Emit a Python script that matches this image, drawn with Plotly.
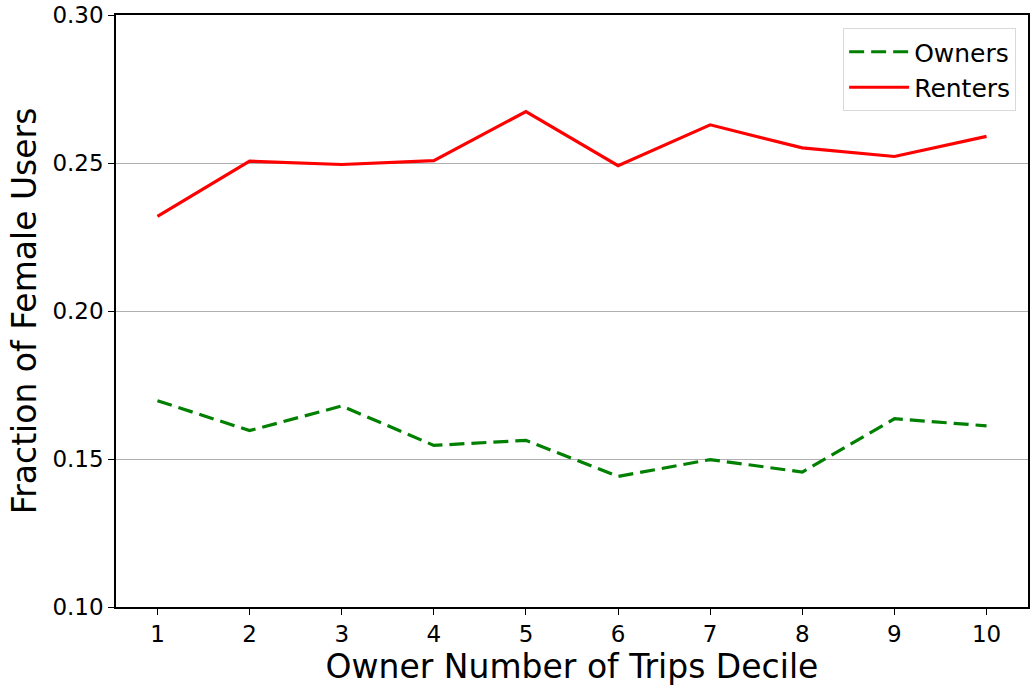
import plotly.graph_objects as go

deciles = [1, 2, 3, 4, 5, 6, 7, 8, 9, 10]
owners = [0.1697, 0.1596, 0.1679, 0.1546, 0.1563, 0.1441, 0.1498, 0.1456, 0.1636, 0.1612]
renters = [0.2320, 0.2506, 0.2495, 0.2508, 0.2674, 0.2491, 0.2629, 0.2551, 0.2522, 0.2590]
y_ticks = [0.10, 0.15, 0.20, 0.25, 0.30]
y_tick_labels = ["0.10", "0.15", "0.20", "0.25", "0.30"]

fig = go.Figure()
fig.add_trace(go.Scatter(x=deciles, y=owners, mode="lines", name="Owners",
                         line=dict(color="#008000", width=3.2, dash="15px,7px")))
fig.add_trace(go.Scatter(x=deciles, y=renters, mode="lines", name="Renters",
                         line=dict(color="#ff0000", width=3.2)))

font = "DejaVu Sans"
fig.update_layout(
    width=1032, height=686,
    margin=dict(l=116, r=2, t=14, b=79),
    paper_bgcolor="white", plot_bgcolor="white",
    font=dict(family=font, color="black", size=23),
    showlegend=True,
    legend=dict(x=0.987, y=0.978, xanchor="right", yanchor="top",
                bgcolor="white", bordercolor="#d9d9d9", borderwidth=1,
                font=dict(size=25, family=font), itemwidth=60),
    xaxis=dict(range=[0.55, 10.45], tickvals=deciles, ticktext=[str(d) for d in deciles],
               showgrid=False, zeroline=False, ticks="outside", ticklen=6, tickwidth=1,
               tickcolor="black", showline=True, linecolor="black", linewidth=1.5, mirror=True,
               title=dict(text="Owner Number of Trips Decile", font=dict(size=33), standoff=4),
               tickfont=dict(size=23)),
    yaxis=dict(range=[0.10, 0.30], tickvals=y_ticks, ticktext=y_tick_labels,
               showgrid=True, gridcolor="#b0b0b0", gridwidth=1, zeroline=False,
               ticks="outside", ticklen=6, tickwidth=1, tickcolor="black",
               showline=True, linecolor="black", linewidth=1.5, mirror=True,
               title=dict(text="Fraction of Female Users", font=dict(size=33), standoff=6),
               tickfont=dict(size=23)),
)

fig.write_html("out.html", config={"displayModeBar": False},
               post_script="document.body.style.margin='0';document.body.style.overflow='hidden';")
